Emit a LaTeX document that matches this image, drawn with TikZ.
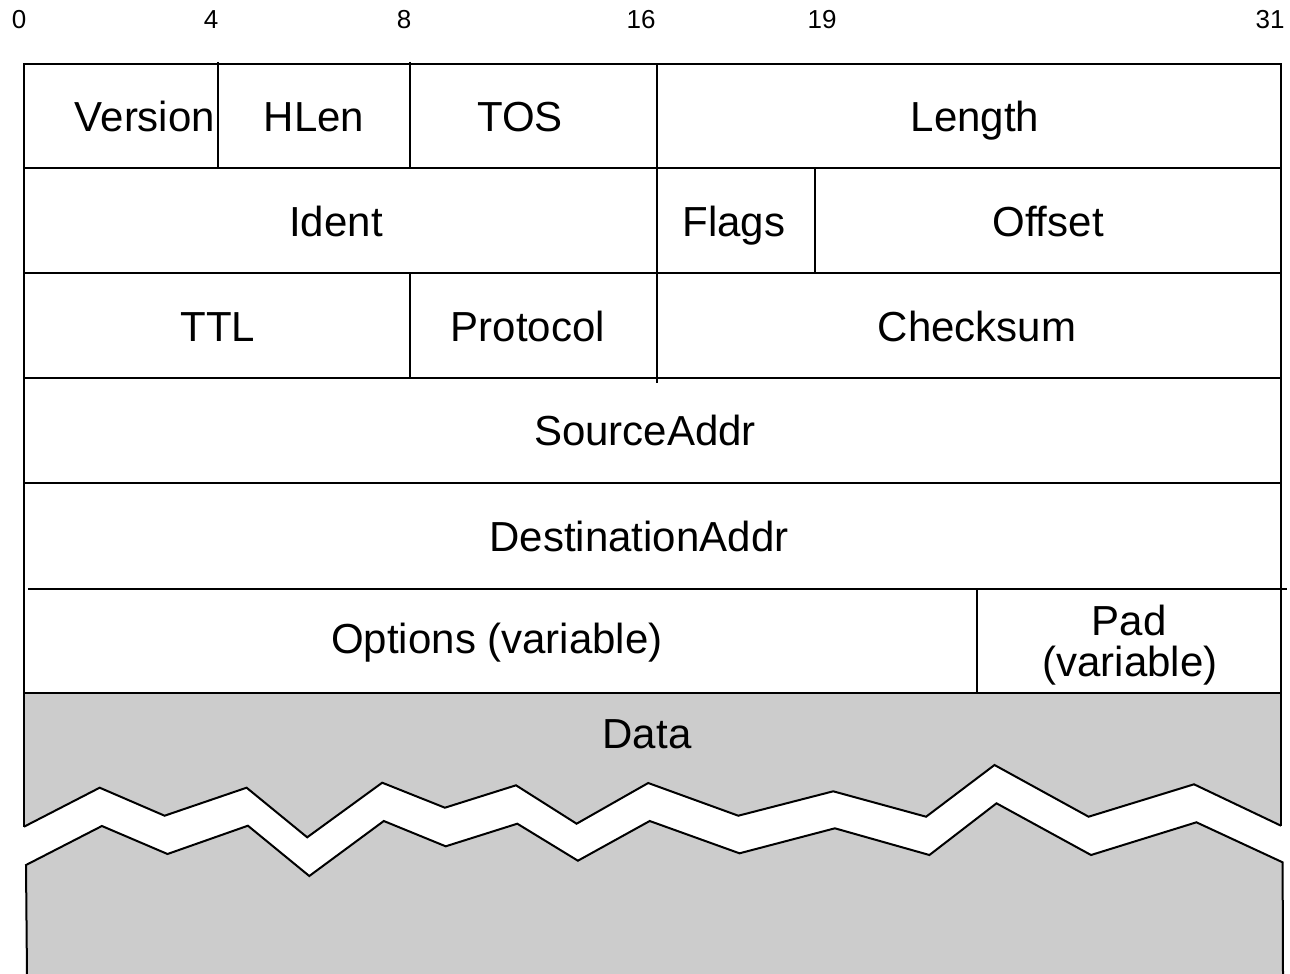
\documentclass[tikz,border=0pt]{standalone}
\usepackage{fontspec}
\setmainfont{Liberation Sans}
\definecolor{datagray}{HTML}{CCCCCC}
\begin{document}
\begin{tikzpicture}[x=1pt,y=-1pt,
  frame/.style={line width=2pt,line join=miter},
  inner/.style={line width=1.6pt},
  lbl/.style={font=\fontsize{42}{42}\selectfont,anchor=base,inner sep=0pt},
  num/.style={font=\fontsize{26}{26}\selectfont,anchor=base,inner sep=0pt}]
\useasboundingbox (0,0) rectangle (1290,974);
% bit numbers
\node[num] (n0) at (19,29) {0};
\node[num] (n4) at (211,29) {4};
\node[num] (n8) at (404,29) {8};
\node[num] (n16) at (641,29) {16};
\node[num] (n19) at (822,29) {19};
\node[num] (n31) at (1270,29) {31};
% data area (gray)
\fill[datagray] (24,693) -- (1281,693) -- (1281,825.7) -- (1194,784.3) -- (1088.6,816.7) -- (994.5,765) -- (926.1,816.7) -- (833.2,791.3) -- (738.3,815.7) -- (648.2,783) -- (576.6,823.7) -- (516,785.3) -- (444.9,807.7) -- (382.2,782.7) -- (307.2,837.3) -- (246.6,787.7) -- (164.6,815.7) -- (99.7,787.7) -- (24,826.7) -- cycle;
\draw[frame] (24,826.7) -- (99.7,787.7) -- (164.6,815.7) -- (246.6,787.7) -- (307.2,837.3) -- (382.2,782.7) -- (444.9,807.7) -- (516,785.3) -- (576.6,823.7) -- (648.2,783) -- (738.3,815.7) -- (833.2,791.3) -- (926.1,816.7) -- (994.5,765) -- (1088.6,816.7) -- (1194,784.3) -- (1281,825.7);
\fill[datagray] (26,865) -- (101.9,826) -- (167.5,854) -- (247.9,825.7) -- (309.3,876) -- (383.8,821) -- (445.7,846.3) -- (517.3,823.7) -- (577.9,860.7) -- (649.7,821) -- (739.5,853.3) -- (834.9,828.3) -- (929.4,855) -- (996.5,803.3) -- (1091,855) -- (1196.4,822.3) -- (1282.6,862.3) -- (1283,976) -- (27,976) -- cycle;
\draw[frame] (27,976) -- (26,865) -- (101.9,826) -- (167.5,854) -- (247.9,825.7) -- (309.3,876) -- (383.8,821) -- (445.7,846.3) -- (517.3,823.7) -- (577.9,860.7) -- (649.7,821) -- (739.5,853.3) -- (834.9,828.3) -- (929.4,855) -- (996.5,803.3) -- (1091,855) -- (1196.4,822.3) -- (1282.6,862.3) -- (1283,976);
% outer frame
\draw[frame] (24,826.7) -- (24,64) -- (1281,64) -- (1281,825.7);
% row lines
\draw[frame] (24,168) -- (1281,168);
\draw[frame] (24,273) -- (1281,273);
\draw[frame] (24,378) -- (1281,378);
\draw[frame] (24,483) -- (1281,483);
\draw[frame] (28,589) -- (1287,589);
\draw[frame] (24,693) -- (1281,693);
% field separators
\draw[inner] (218,62) -- (218,168);
\draw[inner] (410,62) -- (410,168);
\draw[inner] (657,64) -- (657,383);
\draw[inner] (815,168) -- (815,273);
\draw[inner] (410,273) -- (410,378);
\draw[inner] (977,589) -- (977,693);
% labels
\node[lbl] (version) at (145,131) {Version};
\node[lbl] (hlen) at (314,131) {HLen};
\node[lbl] (tos) at (520,131) {TOS};
\node[lbl] (length) at (975,131) {Length};
\node[lbl] (ident) at (336,236) {Ident};
\node[lbl] (flags) at (734,236) {Flags};
\node[lbl] (offset) at (1048,236) {Offset};
\node[lbl] (ttl) at (218,341) {TTL};
\node[lbl] (protocol) at (528,341) {Protocol};
\node[lbl] (checksum) at (977,341) {Checksum};
\node[lbl] (src) at (645,445) {SourceAddr};
\node[lbl] (dst) at (639,551) {DestinationAddr};
\node[lbl] (options) at (497,653) {Options (variable)};
\node[lbl] (pad) at (1129,635) {Pad};
\node[lbl] (padv) at (1130,676) {(variable)};
\node[lbl] (data) at (647,748) {Data};
\end{tikzpicture}
\end{document}
